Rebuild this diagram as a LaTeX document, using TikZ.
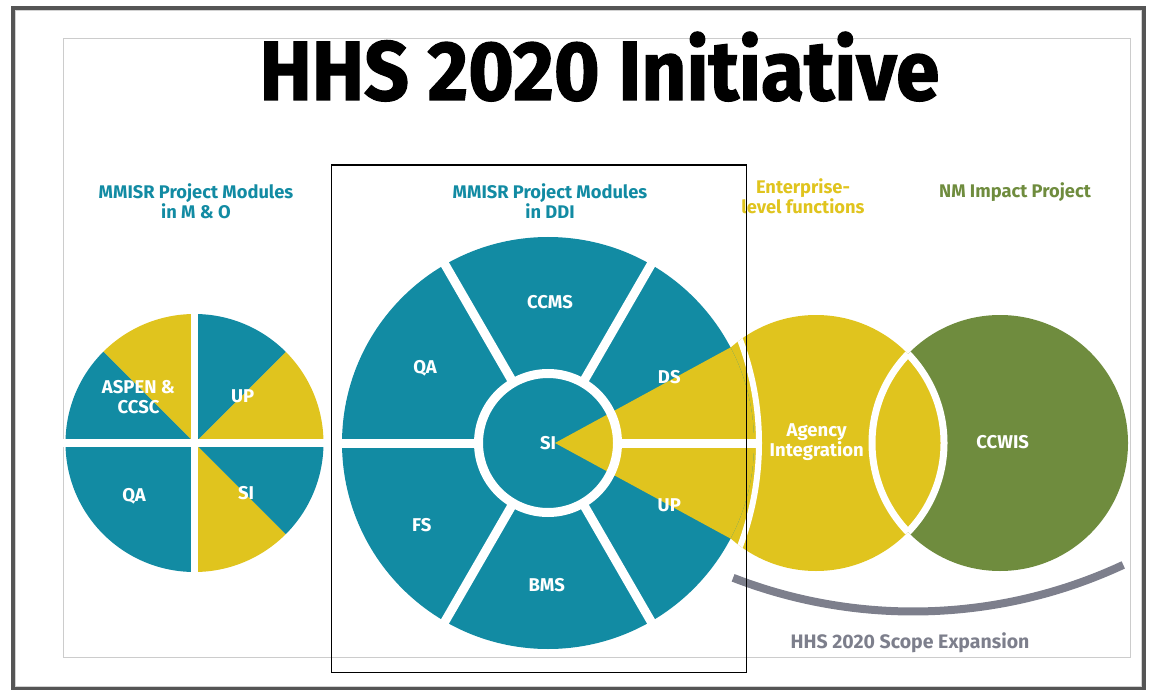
\documentclass[tikz,border=0pt]{standalone}
\usepackage{fontspec}
\setmainfont{Fira Sans}
\newfontfamily\titlefont[FakeBold=1.5]{Fira Sans}
\usetikzlibrary{positioning,calc}
\definecolor{mteal}{RGB}{18,139,163}
\definecolor{myellow}{RGB}{224,196,30}
\definecolor{mgreen}{RGB}{111,140,62}
\definecolor{scopegray}{RGB}{125,127,140}
\definecolor{framegray}{RGB}{85,85,85}
\tikzset{
  lbl/.style={text=white,font=\fontsize{18.5}{20}\selectfont\bfseries,
    align=center,inner sep=0pt},
  hdr/.style={font=\fontsize{18.3}{18.5}\selectfont\bfseries,align=center,
    inner sep=0pt},
  gap/.style={white,line width=8pt},
  ring/.style={white,line width=7pt},
}

\begin{document}
\begin{tikzpicture}[x=1pt,y=1pt]
  \useasboundingbox (0,0) rectangle (1150,689);
  % frames
  \draw[framegray,line width=4.5] (13,681) rectangle (1144,0);
  \draw[gray!35,line width=0.8] (15.5,678.5) rectangle (1141.5,2.5);
  \draw[gray!40,line width=0.8] (63,651) rectangle (1130,32);
  \node[font=\titlefont\fontsize{84}{84}\selectfont\bfseries,anchor=base,
    inner sep=0pt] (title) at (599.5,589)
    {\scalebox{0.934}[1]{HHS 2020 Initiative}};

  % headers
  \node[hdr,text=mteal] (hmo) at (196,488) {MMISR Project Modules\\in M \& O};
  \node[hdr,text=mteal] (hddi) at (550,488) {MMISR Project Modules\\in DDI};
  \node[hdr,text=myellow] (hent) at (803,493) {Enterprise-\\level functions};
  \node[hdr,text=mgreen] (hnm) at (1015,497.3) {NM Impact Project};

  % M & O pie
  \coordinate (lp) at (194.5,246);
  \foreach \a/\b/\c in {0/45/myellow,45/90/mteal,90/135/myellow,
      135/270/mteal,270/315/myellow,315/360/mteal}
    \fill[\c] (lp) -- ++(\a:129) arc[start angle=\a,end angle=\b,radius=129]
      -- cycle;
  \draw[gap] ($(lp)+(-135,0)$) -- ($(lp)+(135,0)$);
  \draw[gap,line width=7.5] ($(lp)+(0,-135)$) -- ($(lp)+(0,135)$);
  \node[lbl] (laspen) at (138.5,292.3) {ASPEN \&\\CCSC};
  \node[lbl] (lup) at (242.6,292.3) {UP};
  \node[lbl] (lqa) at (134,192.3) {QA};
  \node[lbl] (lsi) at (246,196) {SI};

  % enterprise + NM circles
  \coordinate (ag) at (816,246);
  \coordinate (gc) at (1000,246);
  \fill[myellow] (ag) circle[radius=128];
  \fill[mgreen] (gc) circle[radius=128];
  \begin{scope}
    \clip (ag) circle[radius=128];
    \fill[myellow] (gc) circle[radius=128];
    \draw[ring] (gc) circle[radius=128];
  \end{scope}
  \begin{scope}
    \clip (gc) circle[radius=128];
    \draw[ring] (ag) circle[radius=128];
  \end{scope}

  % DDI circle
  \coordinate (mc) at (548,246);
  \coordinate (ap) at (555,246);
  \fill[mteal] (mc) circle[radius=206];
  \begin{scope}
    \clip (mc) circle[radius=206];
    \fill[myellow] (ap) -- ($(ap)+(28.57:260)$) -- ($(ap)+(-28.57:260)$)
      -- cycle;
  \end{scope}
  \foreach \a in {0,60,...,300}
    \draw[gap,line width=9] ($(mc)+(\a:69)$) -- ($(mc)+(\a:212)$);
  \draw[white,line width=9] (mc) circle[radius=69.5];
  \begin{scope}
    \clip (ag) circle[radius=128];
    \draw[white,line width=6] (468,246) ++(-25:291)
      arc[start angle=-25,end angle=25,radius=291];
  \end{scope}
  \node[lbl] (dccms) at (550,387.3) {CCMS};
  \node[lbl] (dqa) at (425,320.7) {QA};
  \node[lbl] (dds) at (669.3,312.3) {DS};
  \node[lbl] (dsi) at (548,245.7) {SI};
  \node[lbl] (dfs) at (421.7,164) {FS};
  \node[lbl] (dup) at (669.3,184) {UP};
  \node[lbl] (dbms) at (546.7,104) {BMS};
  \node[lbl] (lagency) at (816.7,247.3) {Agency\\Integration};
  \node[lbl] (lccwis) at (1002.7,247.3) {CCWIS};

  % scope expansion
  \draw[scopegray,line width=8] (913,575) ++(248.8:497.5)
    arc[start angle=248.8,end angle=295,radius=497.5];
  \node[hdr,text=scopegray,font=\fontsize{19.5}{20}\selectfont\bfseries]
    (lscope) at (910,46) {HHS 2020 Scope Expansion};

  \draw[black,line width=1.3] (331.5,524) rectangle (746.5,16.5);
\end{tikzpicture}
\end{document}
